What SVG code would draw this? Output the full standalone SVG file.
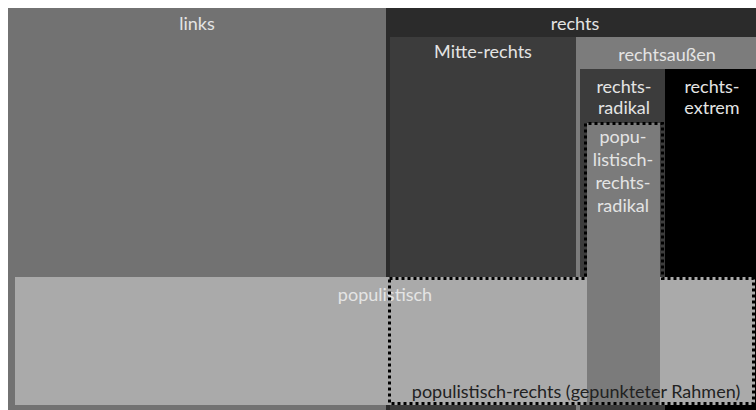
<svg xmlns="http://www.w3.org/2000/svg" width="756" height="410" viewBox="0 0 756 410">
<style>
text{font-family:Lato,"Open Sans","Liberation Sans",sans-serif;font-size:18px;text-anchor:middle}
.lt{fill:#e4e4e4}
.dk{fill:#222222}
.dot{fill:none;stroke:#000;stroke-width:3;stroke-dasharray:3 3}
</style>
<rect width="756" height="410" fill="#ffffff"/>
<g id="links">
<rect x="8" y="8" width="378" height="402" fill="#727272"/>
<text class="lt" x="197" y="30">links</text>
</g>
<g id="rechts">
<rect x="386" y="8" width="370" height="402" fill="#2b2b2b"/>
<text class="lt" x="575" y="30">rechts</text>
</g>
<g id="mitte-rechts">
<rect x="390" y="37" width="186" height="373" fill="#3c3c3c"/>
<text class="lt" x="483" y="58">Mitte-rechts</text>
</g>
<g id="rechtsaussen">
<rect x="576" y="37" width="180" height="373" fill="#7c7c7c"/>
<text class="lt" x="667" y="61">rechtsaußen</text>
</g>
<g id="rechtsradikal">
<rect x="580" y="69" width="85" height="341" fill="#3c3c3c"/>
<text class="lt" x="624" y="93">rechts-</text>
<text class="lt" x="624" y="114">radikal</text>
</g>
<g id="rechtsextrem">
<rect x="665" y="69" width="91" height="341" fill="#000000"/>
<text class="lt" x="712" y="93">rechts-</text>
<text class="lt" x="712" y="114">extrem</text>
</g>
<g id="populistisch">
<rect x="15" y="277" width="740" height="128" fill="#aaaaaa"/>
<text class="lt" x="385" y="301">populistisch</text>
</g>
<g id="populistisch-rechtsradikal">
<rect x="587" y="123" width="73" height="282" fill="#7b7b7b"/>
<text class="lt" x="623" y="143">popu-</text>
<text class="lt" x="623" y="166">listisch-</text>
<text class="lt" x="623" y="189">rechts-</text>
<text class="lt" x="623" y="212">radikal</text>
</g>
<g id="populistisch-rechts">
<path class="dot" d="M389.5,278.5 H585.5 V123.5 H662.5 V278.5 H753.5 V403.5 H389.5 Z"/>
<text class="dk" x="576" y="398">populistisch-rechts (gepunkteter Rahmen)</text>
</g>
</svg>
